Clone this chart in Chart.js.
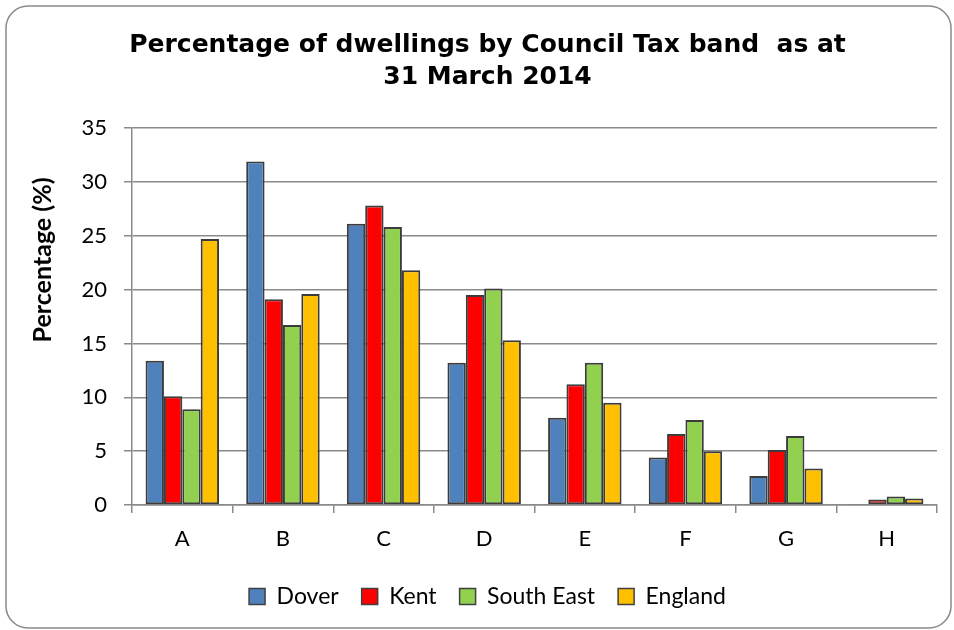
<!DOCTYPE html>
<html>
<head>
<meta charset="utf-8">
<script src="https://cdn.jsdelivr.net/npm/chart.js@4/dist/chart.umd.min.js"></script>
<style>
  html, body { margin: 0; padding: 0; background: #ffffff; }
  #wrap { width: 954px; height: 630px; position: relative; }
</style>
</head>
<body>
<div id="wrap"><canvas id="c" width="954" height="630"></canvas></div>
<script>
const categories = ['A', 'B', 'C', 'D', 'E', 'F', 'G', 'H'];
const dover      = [13.4, 31.9, 26.1, 13.2, 8.1, 4.4, 2.7, 0.1];
const kent       = [10.1, 19.1, 27.8, 19.5, 11.2, 6.6, 5.1, 0.5];
const southEast  = [8.9, 16.7, 25.8, 20.1, 13.2, 7.9, 6.4, 0.8];
const england    = [24.7, 19.6, 21.8, 15.3, 9.5, 5.0, 3.4, 0.6];
const seriesNames = ['Dover', 'Kent', 'South East', 'England'];
const yTicks = [0, 5, 10, 15, 20, 25, 30, 35];
const titleLines = ['Percentage of dwellings by Council Tax band  as at', '31 March 2014'];
const yTitle = 'Percentage (%)';

const colors = ['#4f81bd', '#ff0000', '#92d050', '#ffc000'];
const gridColor = '#8a8a8a';

const framePlugin = {
  id: 'frame',
  beforeDraw(chart) {
    const ctx = chart.ctx;
    ctx.save();
    ctx.fillStyle = '#ffffff';
    ctx.fillRect(0, 0, chart.width, chart.height);
    ctx.strokeStyle = '#8a8a8a';
    ctx.lineWidth = 1.5;
    ctx.beginPath();
    ctx.roundRect(6, 6, 945, 622, 22);
    ctx.stroke();
    ctx.restore();
  }
};

// Y-axis title, placed as in the reference (above the plot's middle)
const yTitlePlugin = {
  id: 'yTitleText',
  afterDraw(chart) {
    const ctx = chart.ctx;
    const area = chart.chartArea;
    const cy = area.top + (area.bottom - area.top) * 0.35;
    ctx.save();
    ctx.translate(43, cy);
    ctx.rotate(-Math.PI / 2);
    ctx.fillStyle = '#000000';
    ctx.font = 'bold 25px Lato, "Open Sans", sans-serif';
    ctx.textAlign = 'center';
    ctx.textBaseline = 'middle';
    ctx.fillText(yTitle, 0, 0);
    ctx.restore();
  }
};

const data = {
  labels: categories,
  datasets: [dover, kent, southEast, england].map((vals, i) => ({
    label: seriesNames[i],
    data: vals,
    backgroundColor: colors[i],
    borderColor: '#3c3c3c',
    borderWidth: 2,
    borderSkipped: false,
    categoryPercentage: 0.73,
    barPercentage: 1.0,
    yAxisID: 'y'
  }))
};

new Chart(document.getElementById('c'), {
  type: 'bar',
  data: data,
  plugins: [framePlugin, yTitlePlugin],
  options: {
    responsive: false,
    animation: false,
    devicePixelRatio: 1,
    layout: { padding: { left: 34, right: 13, top: 10, bottom: 12 } },
    plugins: {
      tooltip: { enabled: false },
      title: {
        display: true,
        text: titleLines,
        color: '#000000',
        font: { family: '"DejaVu Sans", Arial, sans-serif', size: 25, weight: 'bold', lineHeight: 1.28 },
        padding: { top: 19, bottom: 35 }
      },
      legend: {
        position: 'bottom',
        labels: {
          color: '#000000',
          font: { family: 'Lato, "Open Sans", sans-serif', size: 23 },
          boxWidth: 16,
          boxHeight: 16,
          padding: 23,
          generateLabels(chart) {
            return chart.data.datasets.map((ds, i) => ({
              text: ds.label,
              fillStyle: ds.backgroundColor,
              strokeStyle: '#404040',
              lineWidth: 1.5,
              datasetIndex: i,
              hidden: false
            }));
          }
        }
      }
    },
    scales: {
      x: {
        offset: true,
        grid: {
          offset: true,
          drawOnChartArea: false,
          drawTicks: true,
          tickLength: 8,
          color: gridColor,
          lineWidth: 1.5
        },
        border: { display: true, color: gridColor, width: 1.5 },
        ticks: {
          color: '#000000',
          font: { family: 'Lato, "Open Sans", sans-serif', size: 22 },
          padding: 13
        },
        afterFit(scale) { scale.height = 57; }
      },
      y: {
        min: 0,
        max: 35,
        afterBuildTicks(scale) { scale.ticks = yTicks.map(v => ({ value: v })); },
        grid: {
          color: gridColor,
          lineWidth: 1.5,
          tickLength: 8
        },
        border: { display: true, color: gridColor, width: 1.5 },
        ticks: {
          color: '#000000',
          font: { family: 'Lato, "Open Sans", sans-serif', size: 22 },
          padding: 17
        },
        title: { display: false },
        afterFit(scale) { scale.width = 98; }
      },
      yRight: {
        position: 'right',
        display: true,
        grid: { display: false, drawOnChartArea: false },
        border: { display: false },
        ticks: { display: false },
        afterFit(scale) { scale.width = 4; }
      }
    }
  }
});
</script>
</body>
</html>
